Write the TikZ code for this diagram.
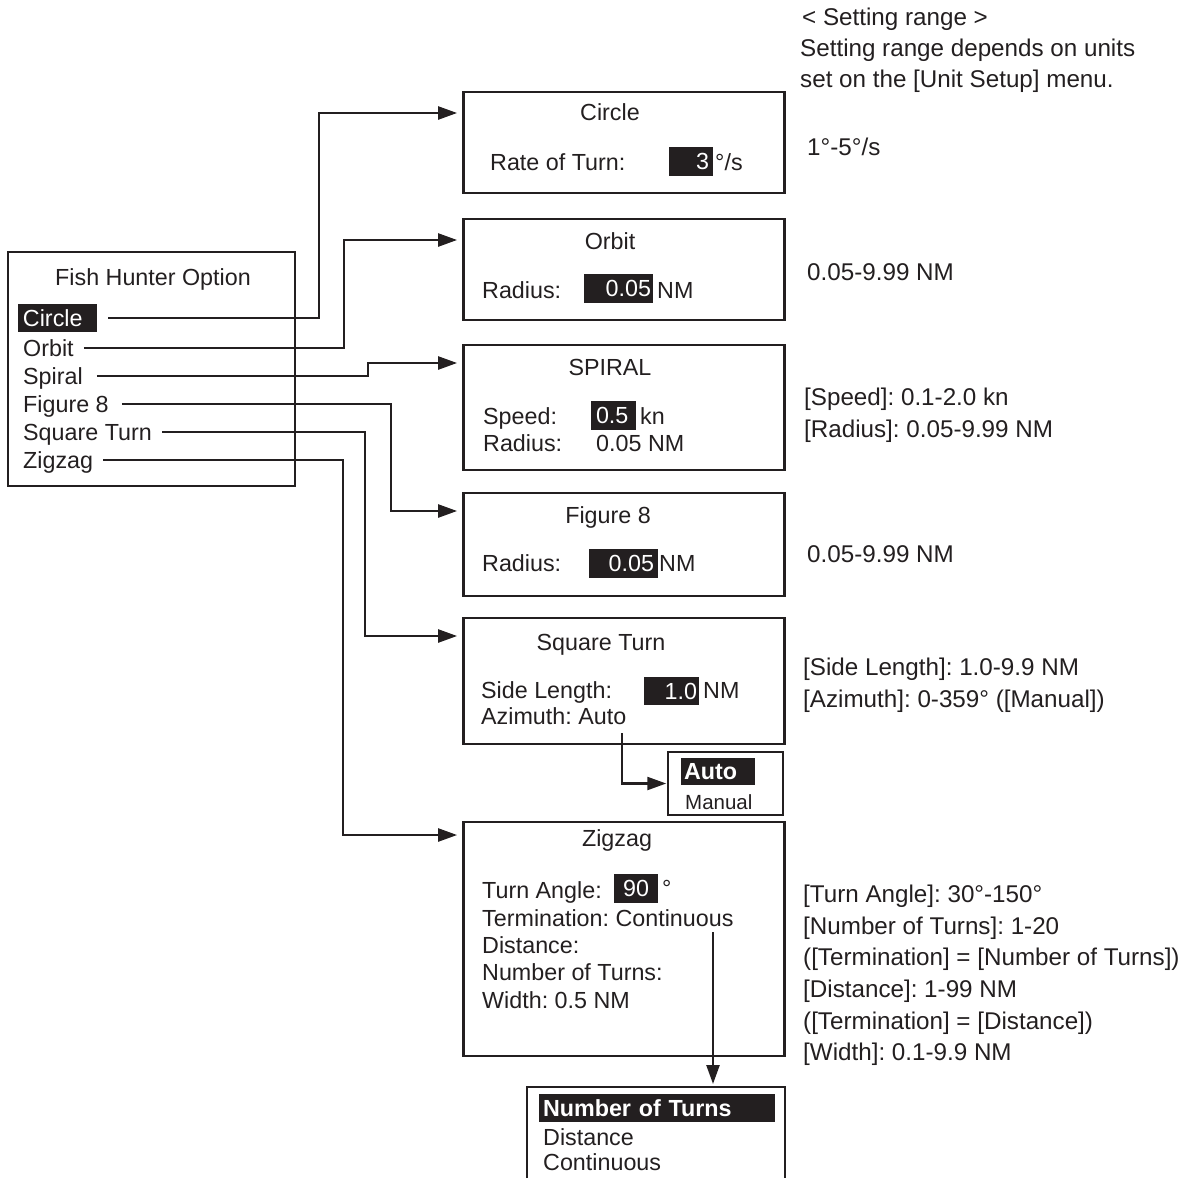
\documentclass[tikz,border=0pt]{standalone}
\usepackage{fontspec}
\setmainfont{Liberation Sans}
\usetikzlibrary{arrows.meta}
\definecolor{ink}{HTML}{231F20}
\frenchspacing
\newcommand\fsm{\fontsize{23.3pt}{28pt}\selectfont}
\newcommand\fsr{\fontsize{24.2pt}{29pt}\selectfont}
\newcommand\fss{\fontsize{20.5pt}{24pt}\selectfont}
\tikzset{
  txt/.style={inner sep=0pt, text height=16.7pt, text depth=0pt, font=\fsm, text=ink},
  lt/.style={txt, anchor=west},
  rt/.style={inner sep=0pt, text height=17.3pt, text depth=0pt, font=\fsr, text=ink, anchor=west},
  smalltxt/.style={inner sep=0pt, text height=14.7pt, text depth=0pt, font=\fss, text=ink, anchor=west},
  hl/.style={txt, fill=ink, text=white, inner ysep=0pt},
  panel/.style={draw=ink, line width=2.8pt, inner sep=0pt},
  thinpanel/.style={draw=ink, line width=1.5pt, inner sep=0pt},
  conn/.style={draw=ink, line width=2.4pt, -{Triangle[length=19pt,width=13pt]}, shorten >=5pt},
}
\begin{document}
\begin{tikzpicture}[x=1pt,y=-1pt]
\useasboundingbox (0,0) rectangle (1188,1178);

% ---------------- menu ----------------
\node[panel, minimum width=287pt, minimum height=234pt] (menu) at (151.5,369) {};
\node[txt] (menuT) at (153,277) {Fish Hunter Option};
\node[hl, inner xsep=5pt, text width=69pt, align=left, minimum height=28pt] (mCircle) at (57.5,318) {Circle};
\node[lt] (mOrbit) at (23,348) {Orbit};
\node[lt] (mSpiral) at (23,376) {Spiral};
\node[lt] (mFig) at (23,404) {Figure 8};
\node[lt] (mSquare) at (23,432) {Square Turn};
\node[lt] (mZig) at (23,460) {Zigzag};

% ---------------- Circle ----------------
\node[panel, minimum width=321pt, minimum height=101pt] (bCircle) at (624,142.5) {};
\node[txt] (tCircle) at (610,112) {Circle};
\node[lt] (lRate) at (490,162) {Rate of Turn:};
\node[hl, inner xsep=4pt, text width=36pt, align=right, minimum height=29pt] (vRate) at (691,161.5) {3};
\node[lt] (uRate) at (715,162) {°/s};

% ---------------- Orbit ----------------
\node[panel, minimum width=321pt, minimum height=101pt] (bOrbit) at (624,269.5) {};
\node[txt] (tOrbit) at (610,241) {Orbit};
\node[lt] (lOrbRad) at (482,290) {Radius:};
\node[hl, inner xsep=2pt, text width=65pt, align=right, minimum height=29pt] (vOrbRad) at (618.5,288.5) {0.05};
\node[lt] (uOrbRad) at (657,290) {NM};

% ---------------- Spiral ----------------
\node[panel, minimum width=321pt, minimum height=125pt] (bSpiral) at (624,407.5) {};
\node[txt] (tSpiral) at (610,367) {SPIRAL};
\node[lt] (lSpeed) at (483,416) {Speed:};
\node[hl, inner xsep=5pt, text width=35pt, align=left, minimum height=29pt] (vSpeed) at (613.5,415.5) {0.5};
\node[lt] (uSpeed) at (640,416) {kn};
\node[lt] (lSpRad) at (483,443) {Radius:};
\node[lt] (vSpRad) at (596,443) {0.05 NM};

% ---------------- Figure 8 ----------------
\node[panel, minimum width=321pt, minimum height=103pt] (bFig) at (624,544.5) {};
\node[txt] (tFig) at (608,515) {Figure 8};
\node[lt] (lFigRad) at (482,563) {Radius:};
\node[hl, inner xsep=4pt, text width=61pt, align=right, minimum height=29pt] (vFigRad) at (623.5,563.5) {0.05};
\node[lt] (uFigRad) at (659,563) {NM};

% ---------------- Square Turn ----------------
\node[panel, minimum width=321pt, minimum height=126pt] (bSquare) at (624,681) {};
\node[txt] (tSquare) at (601,642) {Square Turn};
\node[lt] (lSide) at (481,690) {Side Length:};
\node[hl, inner xsep=2pt, text width=51pt, align=right, minimum height=28pt] (vSide) at (671.5,691) {1.0};
\node[lt] (uSide) at (703,690) {NM};
\node[lt] (lAzi) at (481,716) {Azimuth: Auto};
\coordinate (azT) at (622,733);

% Auto / Manual list
\node[thinpanel, minimum width=115pt, minimum height=63pt] (bAuto) at (725.5,783.5) {};
\node[hl, font=\fsm\bfseries, inner xsep=3pt, text width=68pt, align=left, minimum height=27pt] (oAuto) at (718,771.5) {Auto};
\node[smalltxt] (oManual) at (685,802) {Manual};

% ---------------- Zigzag ----------------
\node[panel, minimum width=321pt, minimum height=234pt] (bZig) at (624,939) {};
\node[txt] (tZig) at (617,838) {Zigzag};
\node[lt] (lTurn) at (482,890) {Turn Angle:};
\node[hl, inner xsep=0pt, text width=44pt, align=center, minimum height=29pt] (vTurn) at (636,888) {90};
\node[lt] (uTurn) at (662,888) {°};
\node[lt] (lTerm) at (482,918) {Termination: Continuous};
\node[lt] (lDist) at (482,945) {Distance:};
\node[lt] (lNum) at (482,972) {Number of Turns:};
\node[lt] (lWidth) at (482,1000) {Width: 0.5 NM};
\coordinate (zgT) at (713,932);

% Termination list (open at the bottom edge)
\node[inner sep=0pt, outer sep=0pt, minimum width=258pt, minimum height=91pt] (bList) at (656,1132.5) {};
\draw[ink, line width=1.5pt] (bList.south west) -- (bList.north west) -- (bList.north east) -- (bList.south east);
\node[hl, font=\fsm\bfseries, inner xsep=4pt, text width=228pt, align=left, minimum height=28pt] (oNum) at (657,1108) {Number of Turns};
\node[lt] (oDist) at (543,1137) {Distance};
\node[lt] (oCont) at (543,1162) {Continuous};

% ---------------- connectors ----------------
\draw[conn] ([xshift=11pt]mCircle.east) -| (319,113) -- (319,113 -| bCircle.west);
\draw[conn] ([xshift=10pt]mOrbit.east) -| (344,240) -- (344,240 -| bOrbit.west);
\draw[conn] ([xshift=14pt]mSpiral.east) -| (368,363) -- (368,363 -| bSpiral.west);
\draw[conn] ([xshift=13pt]mFig.east) -| (391,511) -- (391,511 -| bFig.west);
\draw[conn] ([xshift=10pt]mSquare.east) -| (365,636) -- (365,636 -| bSquare.west);
\draw[conn] ([xshift=10pt]mZig.east) -| (343,835) -- (343,835 -| bZig.west);
\draw[conn, shorten >=1pt] (azT) |- (bAuto.west);
\draw[conn, shorten >=3pt] (zgT) -- (zgT |- bList.north);

% ---------------- setting ranges ----------------
\node[rt] (rHead1) at (802,17) {< Setting range >};
\node[rt] (rHead2) at (800,48) {Setting range depends on units};
\node[rt] (rHead3) at (800,79) {set on the [Unit Setup] menu.};
\node[rt] (rCircle) at (807,147) {1°-5°/s};
\node[rt] (rOrbit) at (807,272) {0.05-9.99 NM};
\node[rt] (rSp1) at (804,397) {[Speed]: 0.1-2.0 kn};
\node[rt] (rSp2) at (804,429) {[Radius]: 0.05-9.99 NM};
\node[rt] (rFig) at (807,554) {0.05-9.99 NM};
\node[rt] (rSq1) at (803,667) {[Side Length]: 1.0-9.9 NM};
\node[rt] (rSq2) at (803,699) {[Azimuth]: 0-359° ([Manual])};
\node[rt] (rZ1) at (803,894) {[Turn Angle]: 30°-150°};
\node[rt] (rZ2) at (803,926) {[Number of Turns]: 1-20};
\node[rt] (rZ3) at (803,957) {([Termination] = [Number of Turns])};
\node[rt] (rZ4) at (803,989) {[Distance]: 1-99 NM};
\node[rt] (rZ5) at (803,1021) {([Termination] = [Distance])};
\node[rt] (rZ6) at (803,1052) {[Width]: 0.1-9.9 NM};
\end{tikzpicture}
\end{document}
